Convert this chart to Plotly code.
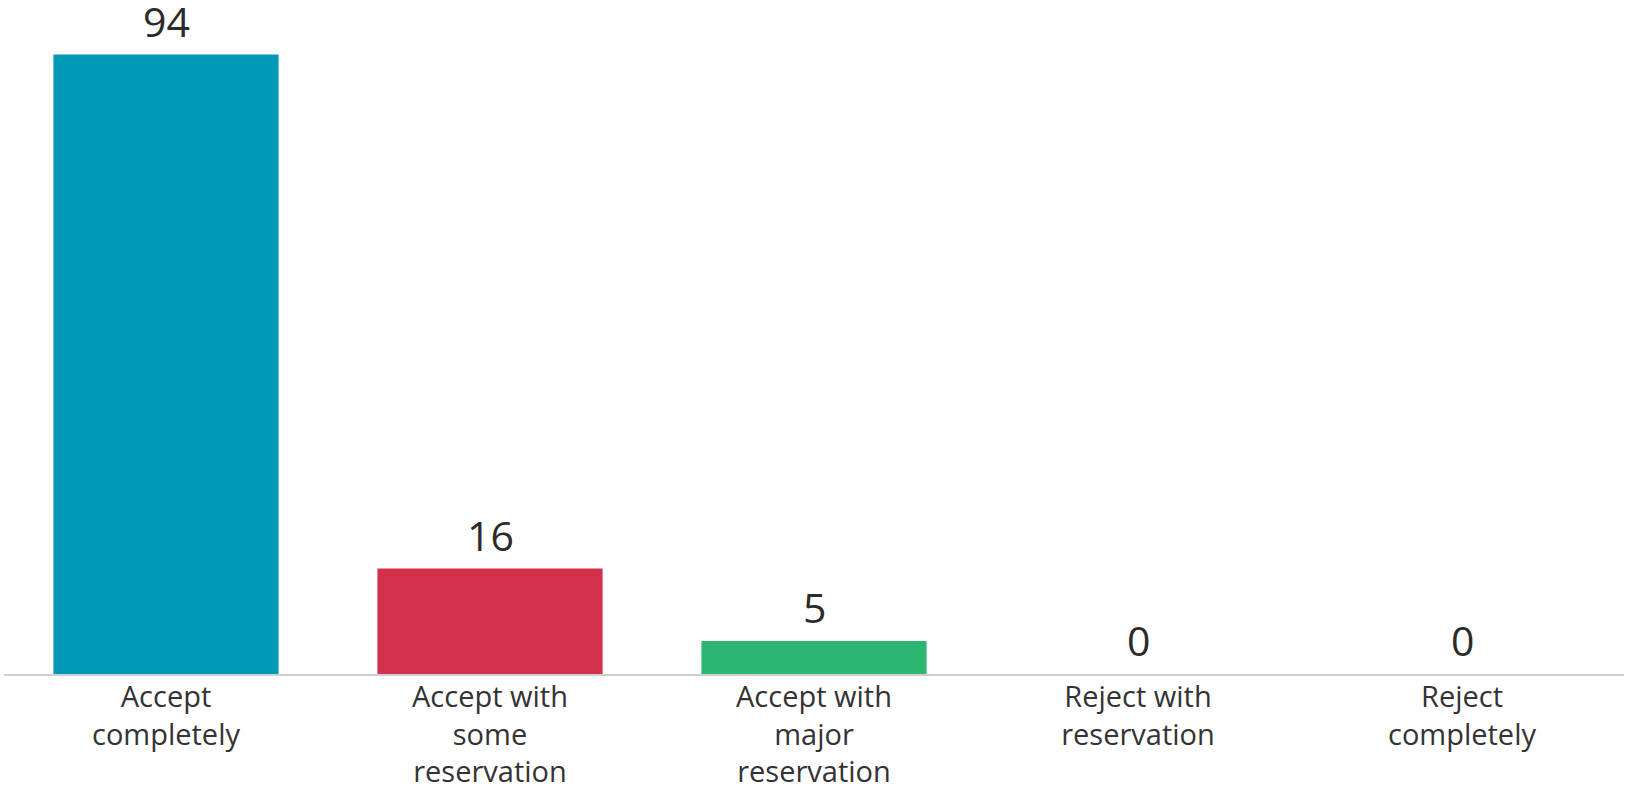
import plotly.graph_objects as go

categories = ["Accept<br>completely", "Accept with<br>some<br>reservation",
              "Accept with<br>major<br>reservation", "Reject with<br>reservation",
              "Reject<br>completely"]
values = [94, 16, 5, 0, 0]
colors = ["#0299B8", "#D3304B", "#2CB672", "#888888", "#888888"]

FONT = "Open Sans"

fig = go.Figure()
fig.add_trace(go.Bar(
    x=categories, y=values, marker=dict(color=colors, line=dict(width=0)),
    hoverinfo="skip",
))
for c, v in zip(categories, values):
    fig.add_annotation(x=c, y=v, text=str(v), showarrow=False,
                       yanchor="bottom", yshift=4,
                       font=dict(family=FONT, size=41, color="#2b2b2b"))

fig.update_layout(
    width=1631, height=789,
    margin=dict(l=4, r=7, t=15, b=115),
    paper_bgcolor="white", plot_bgcolor="white",
    bargap=0.305, showlegend=False,
    xaxis=dict(showline=True, linecolor="#cfcfcf", linewidth=2,
               showgrid=False, ticks="", automargin=False,
               ticklabelstandoff=-4,
               tickfont=dict(family=FONT, size=29, color="#333333")),
    yaxis=dict(range=[0, 100], visible=False, showgrid=False, automargin=False),
)

fig.write_html("out.html")
